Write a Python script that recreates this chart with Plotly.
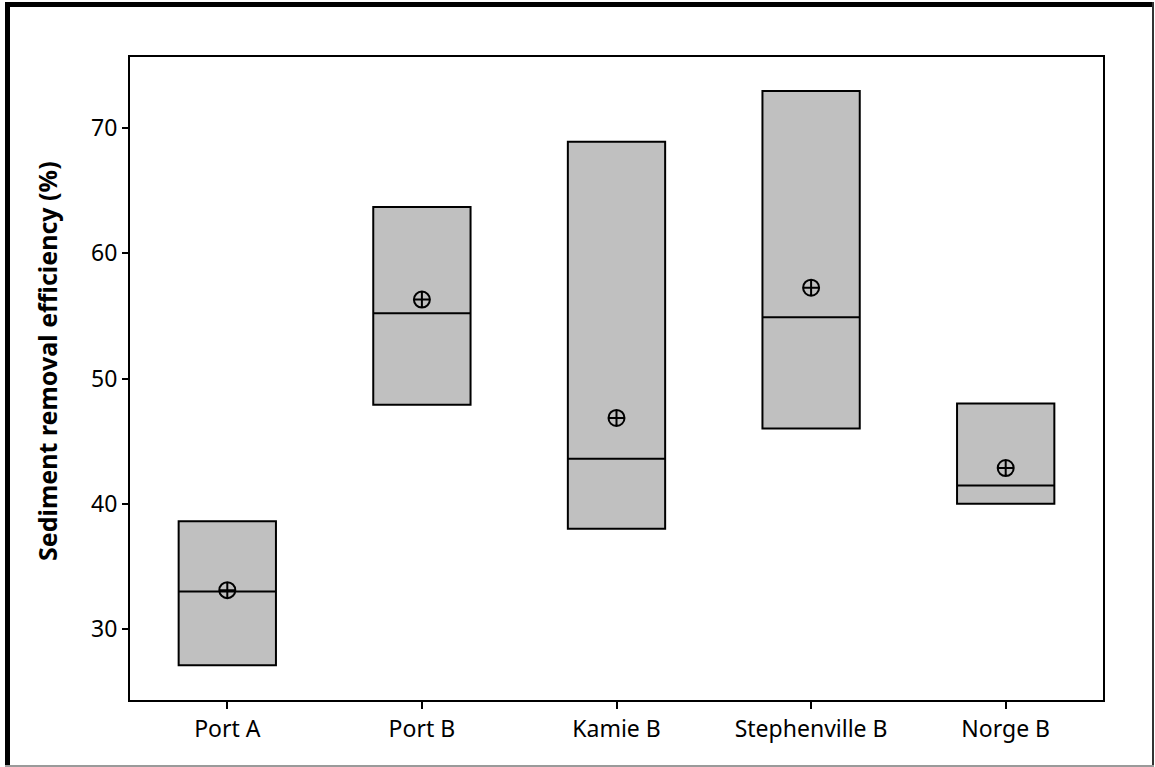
import plotly.graph_objects as go

sites = ["Port A", "Port B", "Kamie B", "Stephenville B", "Norge B"]
low = [27.1, 47.9, 38.0, 46.0, 40.0]
high = [38.6, 63.7, 68.9, 72.95, 48.0]
median = [33.0, 55.2, 43.6, 54.9, 41.45]
mean = [33.1, 56.3, 46.85, 57.25, 42.85]
y_ticks = [30, 40, 50, 60, 70]

W, H = 1155, 767
L, R, T, B = 130, 52, 57, 67
pw, ph = W - L - R, H - T - B

FONT = "Noto Sans"

fig = go.Figure()

# range boxes with median line (box spans min..max)
fig.add_trace(go.Box(
    x=sites,
    q1=low, median=median, q3=high,
    lowerfence=low, upperfence=high,
    width=0.5,
    fillcolor="#C0C0C0",
    line=dict(color="black", width=2),
    whiskerwidth=0,
    boxpoints=False,
    showlegend=False,
    hoverinfo="skip",
))

# mean symbols
fig.add_trace(go.Scatter(
    x=sites, y=mean, mode="markers",
    marker=dict(symbol="circle-cross-open", size=16, color="black",
                line=dict(width=2, color="black")),
    showlegend=False,
))


def px_rect(x0, y0, x1, y1, color):
    # rectangle given in page pixels, converted to paper coords
    fig.add_shape(type="rect", xref="paper", yref="paper",
                  x0=(x0 - L) / pw, x1=(x1 - L) / pw,
                  y0=(H - B - y0) / ph, y1=(H - B - y1) / ph,
                  fillcolor=color, line=dict(width=0), layer="above")


# outer frame
px_rect(5, 2, 1154, 7, "black")
px_rect(5, 2, 10, 767, "black")
px_rect(1152, 2, 1154, 767, "#333333")
px_rect(5, 765, 1154, 767, "#9a9a9a")

# y-axis title
fig.add_annotation(
    text="<b>Sediment removal efficiency (%)</b>",
    xref="paper", yref="paper",
    x=(47 - L) / pw, y=(H - B - 361) / ph,
    xanchor="center", yanchor="middle",
    textangle=-90, showarrow=False,
    font=dict(family=FONT, size=25, color="black"),
)

fig.update_layout(
    width=W, height=H,
    margin=dict(l=L, r=R, t=T, b=B, pad=0),
    paper_bgcolor="white", plot_bgcolor="white",
    font=dict(family=FONT, size=23, color="black"),
    xaxis=dict(
        range=[-0.5, 4.5], showgrid=False, zeroline=False,
        showline=True, linecolor="black", linewidth=2, mirror=True,
        ticks="outside", ticklen=7, tickwidth=1.5, tickcolor="black",
        tickfont=dict(family=FONT, size=23),
    ),
    yaxis=dict(
        range=[24.33, 75.67], tickvals=y_ticks, showgrid=False, zeroline=False,
        showline=True, linecolor="black", linewidth=2, mirror=True,
        ticks="outside", ticklen=6, tickwidth=1.5, tickcolor="black",
        tickfont=dict(family=FONT, size=23),
    ),
)

fig.write_html("out.html")
